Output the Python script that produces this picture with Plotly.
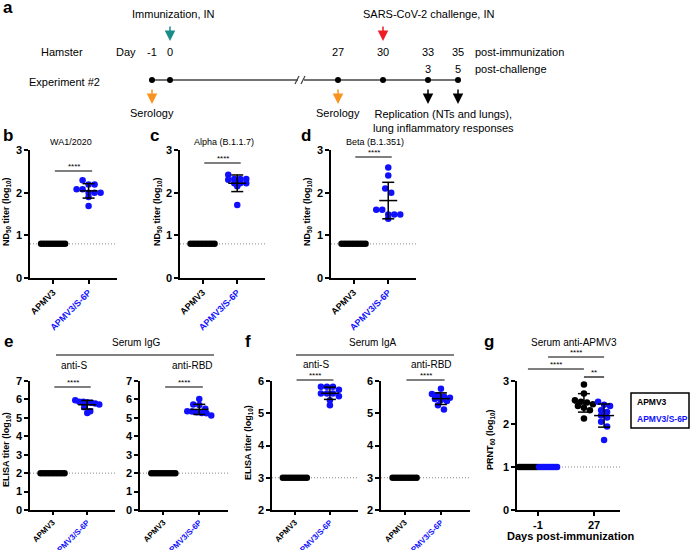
import numpy as np
import plotly.graph_objects as go

W, H = 690, 550
FONT = "Liberation Sans, Arial, sans-serif"
BLUE = "#1010ff"
TEAL = "#1a8c88"
RED = "#ee1c24"
ORANGE = "#f7931e"

# ---------------- data ----------------
groups = ["APMV3", "APMV3/S-6P"]

nd50_lod = 0.8
wa1_apmv3 = [0.8, 0.8, 0.8, 0.8, 0.8, 0.8, 0.8, 0.8, 0.8, 0.8]
wa1_s6p = [2.29, 2.19, 2.19, 2.08, 2.08, 2.0, 2.0, 2.0, 1.9, 1.69]
alpha_apmv3 = [0.8, 0.8, 0.8, 0.8, 0.8, 0.8, 0.8, 0.8, 0.8, 0.8]
alpha_s6p = [2.42, 2.32, 2.32, 2.32, 2.3, 2.22, 2.22, 2.22, 2.15, 1.71]
beta_apmv3 = [0.8, 0.8, 0.8, 0.8, 0.8, 0.8, 0.8, 0.8, 0.8, 0.8]
beta_s6p = [2.59, 2.40, 2.10, 2.0, 1.6, 1.6, 1.49, 1.49, 1.49, 1.39]

igg_lod = 2.0
igg_s_apmv3 = [2.0, 2.0, 2.0, 2.0, 2.0, 2.0, 2.0, 2.0, 2.0, 2.0]
igg_s_s6p = [5.96, 5.88, 5.88, 5.85, 5.82, 5.78, 5.72, 5.58, 5.36, 5.27]
igg_rbd_apmv3 = [2.0, 2.0, 2.0, 2.0, 2.0, 2.0, 2.0, 2.0, 2.0, 2.0]
igg_rbd_s6p = [6.02, 5.72, 5.70, 5.50, 5.36, 5.34, 5.30, 5.27, 5.25, 5.13]

iga_lod = 3.0
iga_s_apmv3 = [3.0, 3.0, 3.0, 3.0, 3.0, 3.0, 3.0, 3.0, 3.0, 3.0]
iga_s_s6p = [5.82, 5.82, 5.82, 5.73, 5.61, 5.61, 5.61, 5.53, 5.40, 5.25]
iga_rbd_apmv3 = [3.0, 3.0, 3.0, 3.0, 3.0, 3.0, 3.0, 3.0, 3.0, 3.0]
iga_rbd_s6p = [5.76, 5.60, 5.56, 5.52, 5.48, 5.44, 5.41, 5.38, 5.25, 5.12]

prnt_lod = 1.0
prnt_days = ["-1", "27"]
prnt_apmv3_dm1 = [1.0, 1.0, 1.0, 1.0, 1.0, 1.0, 1.0, 1.0, 1.0, 1.0]
prnt_apmv3_d27 = [2.92, 2.71, 2.55, 2.52, 2.50, 2.46, 2.42, 2.38, 2.32, 2.13]
prnt_s6p_dm1 = [1.0, 1.0, 1.0, 1.0, 1.0, 1.0, 1.0, 1.0, 1.0, 1.0]
prnt_s6p_d27 = [2.52, 2.45, 2.42, 2.32, 2.28, 2.2, 2.15, 2.05, 1.94, 1.63]

timeline_days = [-1, 0, 27, 30, 33, 35]
challenge_days = [3, 5]

# ---------------- helpers ----------------
def px_x(px):
    return px / W


def px_y(py):
    return 1 - py / H


def sfx(i):
    return "" if i == 1 else str(i)


def swarm(vals, upx_x, upx_y, d=6.0, maxw=12.0):
    vals = np.asarray(vals, float)
    order = np.argsort(-vals, kind="stable")
    offs = np.zeros(len(vals))
    rows = []
    for i in order:
        if rows and abs(vals[rows[-1][0]] - vals[i]) * upx_y < 0.8 * d:
            rows[-1].append(i)
        else:
            rows.append([i])
    for r in rows:
        n = len(r)
        if n == 1:
            continue
        sp = min(d, 2 * maxw / (n - 1))
        for k, i in enumerate(r):
            offs[i] = (k - (n - 1) / 2) * sp / upx_x
    return offs


fig = go.Figure()
layout = {}
shapes = []
annots = []


def text(x, y, s, size=10, color="black", bold=False, xanchor="center", yanchor="middle",
         angle=0):
    annots.append(dict(x=px_x(x), y=px_y(y), xref="paper", yref="paper", text=s,
                       showarrow=False, xanchor=xanchor, yanchor=yanchor, textangle=angle,
                       font=dict(size=size, color=color, family=FONT,
                                 weight="bold" if bold else "normal")))


def add_panel(i, x0, x1, yt, yb, yr, ytv, r0, r1, ticktext, tickangle=-45, tickfont=9, xticklen=4):
    layout[f"xaxis{sfx(i)}"] = dict(domain=[x0 / W, x1 / W], range=[r0, r1], anchor=f"y{sfx(i)}",
                                    showline=True, linecolor="black", linewidth=1.5,
                                    ticks="outside", ticklen=xticklen, tickwidth=1.5, tickcolor="black",
                                    tickvals=list(range(len(ticktext))), ticktext=ticktext,
                                    tickangle=tickangle, showgrid=False, zeroline=False,
                                    automargin=False,
                                    tickfont=dict(size=tickfont, family=FONT, color="black"))
    layout[f"yaxis{sfx(i)}"] = dict(domain=[1 - yb / H, 1 - yt / H], range=list(yr), anchor=f"x{sfx(i)}",
                                    showline=True, linecolor="black", linewidth=1.5,
                                    ticks="outside", ticklen=4, tickwidth=1.5, tickcolor="black",
                                    tickvals=ytv, ticktext=[f"<b>{v}</b>" for v in ytv],
                                    showgrid=False, zeroline=False, automargin=False,
                                    tickfont=dict(size=11, family=FONT, color="black"))
    return dict(i=i, x0=x0, x1=x1, yt=yt, yb=yb, yr=yr, r0=r0, r1=r1,
                upx_x=(x1 - x0) / (r1 - r0), upx_y=(yb - yt) / (yr[1] - yr[0]))


def xpx(p, v):
    return p["x0"] + (v - p["r0"]) * p["upx_x"]


def add_group(p, xc, vals, color, mean_hw=9, cap_hw=6, maxw=12):
    xa = "x" + sfx(p["i"])
    ya = "y" + sfx(p["i"])
    offs = swarm(vals, p["upx_x"], p["upx_y"], maxw=maxw)
    fig.add_trace(go.Scatter(x=xc + offs, y=vals, mode="markers", xaxis=xa, yaxis=ya,
                             marker=dict(size=6.5, color=color, line=dict(width=0)),
                             cliponaxis=False, hoverinfo="skip"))
    v = np.asarray(vals, float)
    m, s = v.mean(), v.std(ddof=1)
    if s > 1e-9:
        mh = mean_hw / p["upx_x"]
        ch = cap_hw / p["upx_x"]
        xs = [xc - mh, xc + mh, None, xc, xc, None, xc - ch, xc + ch, None, xc - ch, xc + ch]
        ys = [m, m, None, m - s, m + s, None, m + s, m + s, None, m - s, m - s]
        fig.add_trace(go.Scatter(x=xs, y=ys, mode="lines", xaxis=xa, yaxis=ya,
                                 line=dict(color="black", width=1.5), hoverinfo="skip"))


def lod_line(p, lod):
    xa = "x" + sfx(p["i"])
    ya = "y" + sfx(p["i"])
    shapes.append(dict(type="line", xref=f"{xa} domain", yref=ya, x0=0, x1=1, y0=lod, y1=lod,
                       line=dict(color="#888888", width=1, dash="1px,2px"), layer="below"))


def bracket(xa_px, xb_px, y, label):
    shapes.append(dict(type="line", xref="paper", yref="paper", x0=px_x(xa_px), x1=px_x(xb_px),
                       y0=px_y(y), y1=px_y(y), line=dict(color="black", width=1.2)))
    text((xa_px + xb_px) / 2, y + 2, label, size=8, yanchor="bottom")


tick2 = ["<b>APMV3</b>", f"<span style='color:{BLUE}'><b>APMV3/S-6P</b></span>"]
R0, R1 = -0.65, 1.8

# ---------------- panels b, c, d ----------------
ND = "<b>ND<sub>50</sub> titer (log<sub>10</sub>)</b>"
nd_panels = [
    (1, 30, 117, "WA1/2020", 71, wa1_apmv3, wa1_s6p, 171, 6),
    (2, 180, 265, "Alpha (B.1.1.7)", 224, alpha_apmv3, alpha_s6p, 163, 157),
    (3, 331, 416, "Beta (B.1.351)", 375, beta_apmv3, beta_s6p, 157, 307),
]
for (i, x0, x1, title, tx, ga, gb, by, lx) in nd_panels:
    p = add_panel(i, x0, x1, 150, 278, (0, 3), [0, 1, 2, 3], R0, R1, tick2)
    lod_line(p, nd50_lod)
    add_group(p, 0, ga, "black")
    add_group(p, 1, gb, BLUE)
    text(tx, 142, title, size=9)
    bracket(xpx(p, 0.05), xpx(p, 1.1), by, "****")
    text(lx, 212, ND, size=9, angle=-90)

# ---------------- panels e, f ----------------
ELISA = "<b>ELISA titer (log<sub>10</sub>)</b>"
ef_panels = [
    (4, 30, 115, (0, 7), list(range(0, 8)), igg_lod, igg_s_apmv3, igg_s_s6p, 387),
    (5, 140, 228, (0, 7), list(range(0, 8)), igg_lod, igg_rbd_apmv3, igg_rbd_s6p, 387),
    (6, 272, 358, (2, 6), list(range(2, 7)), iga_lod, iga_s_apmv3, iga_s_s6p, 380),
    (7, 381, 470, (2, 6), list(range(2, 7)), iga_lod, iga_rbd_apmv3, iga_rbd_s6p, 380),
]
for (i, x0, x1, yr, ytv, lod, ga, gb, by) in ef_panels:
    p = add_panel(i, x0, x1, 381, 510, yr, ytv, R0, R1, tick2, tickfont=8, xticklen=3)
    lod_line(p, lod)
    add_group(p, 0, ga, "black")
    add_group(p, 1, gb, BLUE)
    bracket(xpx(p, 0.05), xpx(p, 1.1), by, "****")
text(6, 450, ELISA, size=9, angle=-90)
text(248, 443, ELISA, size=9, angle=-90)

# headers e / f
text(136, 342, "Serum IgG", size=10)
shapes.append(dict(type="line", xref="paper", yref="paper", x0=px_x(56), x1=px_x(214),
                   y0=px_y(355), y1=px_y(355), line=dict(color="black", width=1)))
text(74, 365, "anti-S", size=10)
text(192, 365, "anti-RBD", size=10)
text(373, 342, "Serum IgA", size=10)
shapes.append(dict(type="line", xref="paper", yref="paper", x0=px_x(296), x1=px_x(454),
                   y0=px_y(355), y1=px_y(355), line=dict(color="black", width=1)))
text(316, 364, "anti-S", size=10)
text(431, 364, "anti-RBD", size=10)

# ---------------- panel g ----------------
pg = add_panel(8, 517, 620, 381, 510, (0, 3), [0, 1, 2, 3], -0.375, 1.464,
               [f"<b>{d}</b>" for d in prnt_days], tickangle=0, tickfont=11)
lod_line(pg, prnt_lod)
GO = 0.18
add_group(pg, 0 - GO, prnt_apmv3_dm1, "black", mean_hw=10, maxw=9)
add_group(pg, 0 + GO, prnt_s6p_dm1, BLUE, mean_hw=10, maxw=9)
add_group(pg, 1 - GO, prnt_apmv3_d27, "black", mean_hw=10, maxw=9)
add_group(pg, 1 + GO, prnt_s6p_d27, BLUE, mean_hw=10, maxw=9)
text(574, 342, "Serum anti-APMV3", size=10)
bracket(xpx(pg, 0 + GO), xpx(pg, 1 + GO), 357, "****")
bracket(xpx(pg, 0 - GO), xpx(pg, 1 - GO), 369, "****")
bracket(xpx(pg, 1 - GO), xpx(pg, 1 + GO), 377, "**")
text(490, 440, "<b>PRNT<sub>60</sub> (log<sub>10</sub>)</b>", size=9, angle=-90)
text(570, 536, "Days post-immunization", size=11, bold=True)
shapes.append(dict(type="rect", xref="paper", yref="paper", x0=px_x(631), x1=px_x(689),
                   y0=px_y(393), y1=px_y(428), line=dict(color="black", width=1.5)))
text(635, 402, groups[0], size=8.5, bold=True, xanchor="left")
text(635, 419, groups[1], size=8.5, bold=True, color=BLUE, xanchor="left")

# ---------------- panel a (timeline) ----------------
def day_px(d):
    return 170 + 18 * d if d <= 0 else 338 + 15 * (d - 27)


TL_Y = 80
TOP = 130
layout["xaxis9"] = dict(domain=[0, 1], range=[0, W], visible=False, anchor="y9", fixedrange=True)
layout["yaxis9"] = dict(domain=[1 - TOP / H, 1], range=[TOP, 0], visible=False, anchor="x9",
                        fixedrange=True)
fig.add_trace(go.Scatter(x=[day_px(timeline_days[0]), day_px(timeline_days[-1])], y=[TL_Y, TL_Y],
                         xaxis="x9", yaxis="y9", mode="lines",
                         line=dict(color="#444444", width=1.5), hoverinfo="skip"))
# axis break
shapes.append(dict(type="rect", xref="paper", yref="paper", x0=px_x(298), x1=px_x(304),
                   y0=px_y(TL_Y - 2), y1=px_y(TL_Y + 2), fillcolor="white", line=dict(width=0)))
for bx in (298, 304):
    shapes.append(dict(type="line", xref="paper", yref="paper", x0=px_x(bx - 3), x1=px_x(bx + 1),
                       y0=px_y(TL_Y + 4), y1=px_y(TL_Y - 4), line=dict(color="#444444", width=1.2)))
fig.add_trace(go.Scatter(x=[day_px(d) for d in timeline_days], y=[TL_Y] * len(timeline_days),
                         xaxis="x9", yaxis="y9", mode="markers",
                         marker=dict(size=6, color="black"), hoverinfo="skip"))

TS = 11
text(62, 52, "Hamster", size=TS)
text(126, 52, "Day", size=TS)
for d in timeline_days:
    text(day_px(d), 52, str(d), size=TS)
text(473, 52, "post-immunization", size=TS, xanchor="left")
for d, c in zip(timeline_days[-2:], challenge_days):
    text(day_px(d), 69, str(c), size=TS)
text(473, 69, "post-challenge", size=TS, xanchor="left")
text(64, 82, "Experiment #2", size=TS)
text(day_px(0) + 3, 14, "Immunization, IN", size=TS)
text(day_px(30) + 46, 14, "SARS-CoV-2 challenge, IN", size=TS)
for d in (-1, 27):
    text(day_px(d), 113, "Serology", size=TS)
text(444, 121, "Replication (NTs and lungs),<br>lung inflammatory responses", size=TS)


def arrow(d, ytip, color):
    annots.append(dict(x=px_x(day_px(d)), y=px_y(ytip), xref="paper", yref="paper", text="",
                       showarrow=True, ax=0, ay=-16, arrowhead=2, arrowsize=1.4, arrowwidth=1.5,
                       arrowcolor=color, standoff=0))


arrow(0, 41, TEAL)
arrow(30, 41, RED)
arrow(-1, 104, ORANGE)
arrow(27, 104, ORANGE)
arrow(33, 104, "black")
arrow(35, 104, "black")

# panel letters
for lab, x, y in [("a", 8, 8), ("b", 8, 135), ("c", 154, 135), ("d", 306, 135),
                  ("e", 8, 341), ("f", 248, 341), ("g", 489, 341)]:
    text(x, y, lab, size=17, bold=True)

fig.update_layout(width=W, height=H, margin=dict(l=0, r=0, t=0, b=0, autoexpand=False),
                  paper_bgcolor="white", plot_bgcolor="rgba(0,0,0,0)", showlegend=False,
                  shapes=shapes, annotations=annots, **layout)
fig.write_html("out.html", config={"displayModeBar": False},
               post_script="document.body.style.margin='0';document.body.style.padding='0';")
